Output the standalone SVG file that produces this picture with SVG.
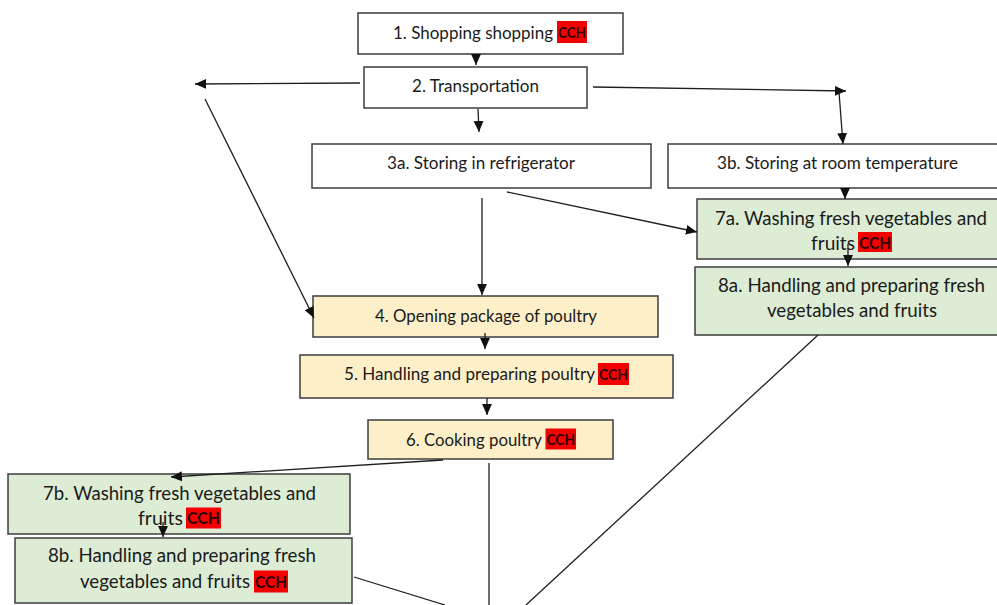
<svg xmlns="http://www.w3.org/2000/svg" width="997" height="605" viewBox="0 0 997 605">
<style>
.box{stroke:#3c3c3c;stroke-width:1.5;fill:#ffffff}
.yel{fill:#fdf0c9}
.grn{fill:#ddedd5}
.t{font-family:Lato,"Open Sans","Liberation Sans",sans-serif;fill:#1a1a1a;font-size:17px}
.tl{font-size:18.5px}
.m{text-anchor:middle}
.cchbg{fill:#f40000}
.cch{font-family:Lato,"Liberation Sans",sans-serif;font-weight:bold;fill:#2a0000;font-size:16px}
.cchl{font-size:17px}
.c{stroke:#1e1e1e;stroke-width:1.3;fill:none;marker-end:url(#ah)}
.n{stroke:#1e1e1e;stroke-width:1.3;fill:none}
</style>
<defs>
<marker id="ah" markerUnits="userSpaceOnUse" markerWidth="11" markerHeight="11" viewBox="0 0 10 10" refX="10" refY="5" orient="auto">
<path d="M0,0.5 L10,5 L0,9.5 Z" fill="#111"/>
</marker>
</defs>
<rect width="997" height="605" fill="#ffffff"/>

<g id="n1">
<rect class="box" x="358" y="13" width="265" height="41"/>
<text class="t" x="393" y="39" textLength="160" lengthAdjust="spacingAndGlyphs">1. Shopping shopping</text>
<rect class="cchbg" x="557" y="21" width="30" height="22"/>
<text class="cch" x="558" y="38" textLength="28" lengthAdjust="spacingAndGlyphs">CCH</text>
</g>

<g id="n2">
<rect class="box" x="364" y="67" width="223" height="41"/>
<text class="t m" x="475.5" y="91.5" textLength="127" lengthAdjust="spacingAndGlyphs">2. Transportation</text>
</g>

<g id="n3a">
<rect class="box" x="312" y="144" width="339" height="44"/>
<text class="t m" x="481" y="169" textLength="188" lengthAdjust="spacingAndGlyphs">3a. Storing in refrigerator</text>
</g>

<g id="n3b">
<rect class="box" x="668" y="144" width="340" height="44"/>
<text class="t m" x="837.5" y="169" textLength="241" lengthAdjust="spacingAndGlyphs">3b. Storing at room temperature</text>
</g>

<g id="n4">
<rect class="box yel" x="313" y="296" width="345" height="41"/>
<text class="t m" x="486" y="321.5" textLength="222" lengthAdjust="spacingAndGlyphs">4. Opening package of poultry</text>
</g>

<g id="n5">
<rect class="box yel" x="300" y="355" width="373" height="43"/>
<text class="t" x="344" y="380" textLength="251" lengthAdjust="spacingAndGlyphs">5. Handling and preparing poultry</text>
<rect class="cchbg" x="598" y="363" width="31" height="22"/>
<text class="cch" x="599" y="380" textLength="29" lengthAdjust="spacingAndGlyphs">CCH</text>
</g>

<g id="n6">
<rect class="box yel" x="368" y="420" width="245" height="39"/>
<text class="t" x="406" y="445.5" textLength="136" lengthAdjust="spacingAndGlyphs">6. Cooking poultry</text>
<rect class="cchbg" x="545.5" y="428.5" width="30.5" height="21"/>
<text class="cch" x="546.5" y="445" textLength="28.5" lengthAdjust="spacingAndGlyphs">CCH</text>
</g>

<g id="n7a">
<rect class="box grn" x="697" y="199" width="310" height="60"/>
<text class="t tl m" x="851" y="225" textLength="272" lengthAdjust="spacingAndGlyphs">7a. Washing fresh vegetables and</text>
<text class="t tl" x="811" y="250" textLength="44" lengthAdjust="spacingAndGlyphs">fruits</text>
<rect class="cchbg" x="858" y="232" width="34" height="20"/>
<text class="cch cchl" x="859" y="249" textLength="32" lengthAdjust="spacingAndGlyphs">CCH</text>
</g>

<g id="n8a">
<rect class="box grn" x="695" y="267" width="312" height="68"/>
<text class="t tl m" x="851.5" y="291.5" textLength="267" lengthAdjust="spacingAndGlyphs">8a. Handling and preparing fresh</text>
<text class="t tl m" x="852" y="316.5" textLength="170" lengthAdjust="spacingAndGlyphs">vegetables and fruits</text>
</g>

<g id="n7b">
<rect class="box grn" x="8" y="474" width="342" height="60"/>
<text class="t tl m" x="179.5" y="499.5" textLength="273" lengthAdjust="spacingAndGlyphs">7b. Washing fresh vegetables and</text>
<text class="t tl" x="138" y="524.5" textLength="45" lengthAdjust="spacingAndGlyphs">fruits</text>
<rect class="cchbg" x="186" y="507.5" width="35" height="21"/>
<text class="cch cchl" x="187" y="524" textLength="33" lengthAdjust="spacingAndGlyphs">CCH</text>
</g>

<g id="n8b">
<rect class="box grn" x="15" y="538" width="337" height="65"/>
<text class="t tl m" x="182" y="562" textLength="268" lengthAdjust="spacingAndGlyphs">8b. Handling and preparing fresh</text>
<text class="t tl" x="80" y="588" textLength="170" lengthAdjust="spacingAndGlyphs">vegetables and fruits</text>
<rect class="cchbg" x="254" y="570.5" width="34" height="22"/>
<text class="cch cchl" x="255" y="588" textLength="32" lengthAdjust="spacingAndGlyphs">CCH</text>
</g>

<g id="connectors">
<line class="c" x1="476" y1="54" x2="476" y2="65"/>
<line class="c" x1="360" y1="83" x2="195" y2="84"/>
<line class="c" x1="205" y1="99" x2="314" y2="318"/>
<line class="c" x1="593" y1="87" x2="846" y2="91"/>
<line class="c" x1="839" y1="92" x2="843" y2="144"/>
<line class="c" x1="478" y1="109" x2="479" y2="132"/>
<line class="c" x1="482" y1="198" x2="482" y2="295"/>
<line class="c" x1="507" y1="192" x2="697" y2="232"/>
<line class="c" x1="845" y1="188" x2="845" y2="199"/>
<line class="c" x1="848" y1="244" x2="848" y2="266"/>
<line class="c" x1="485" y1="333" x2="485" y2="349"/>
<line class="c" x1="487" y1="398" x2="487" y2="415"/>
<line class="c" x1="443" y1="460" x2="171" y2="477"/>
<line class="c" x1="163" y1="522" x2="163" y2="537"/>
<line class="n" x1="489" y1="463" x2="489" y2="605"/>
<line class="n" x1="818" y1="335" x2="526" y2="605"/>
<line class="n" x1="354" y1="577" x2="445" y2="605"/>
</g>
</svg>
